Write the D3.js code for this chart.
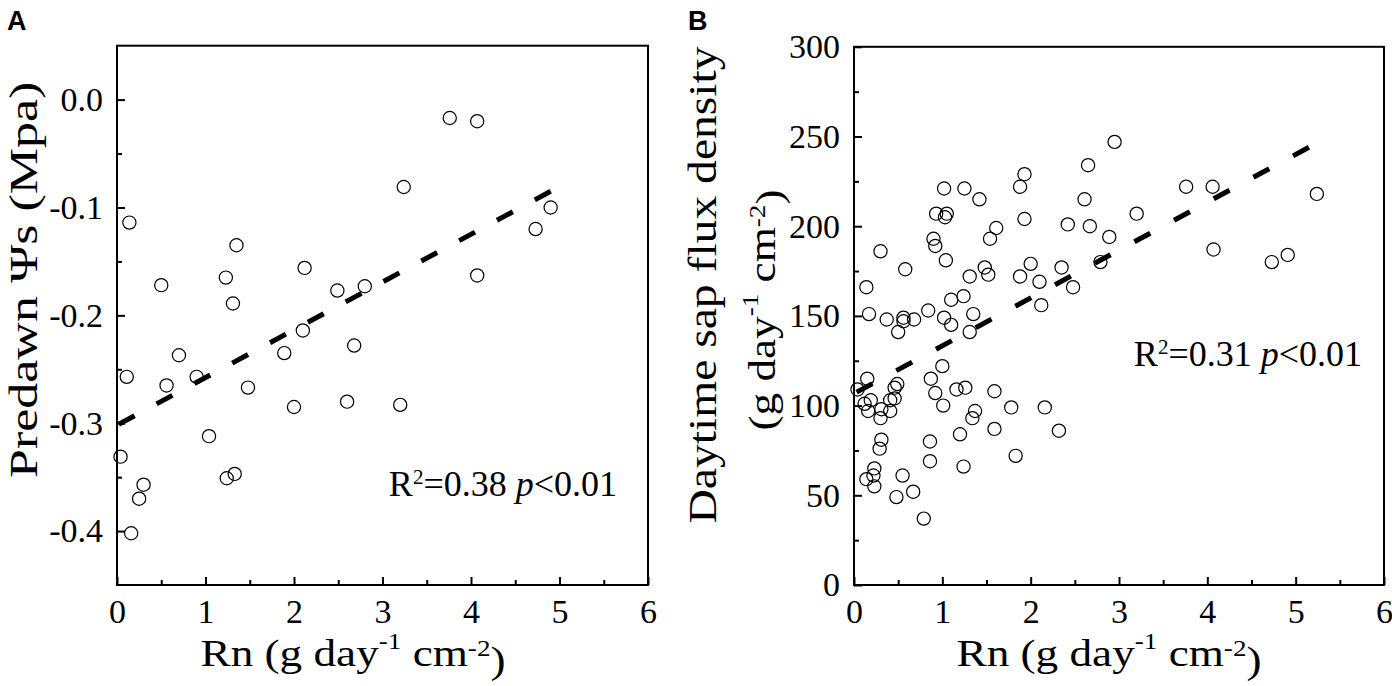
<!DOCTYPE html>
<html>
<head>
<meta charset="utf-8">
<script src="https://cdn.jsdelivr.net/npm/d3@7"></script>
<style>
  body { margin: 0; background: #fff; }
  svg { display: block; }
</style>
</head>
<body>
<div id="chart"></div>
<script>
// Panel A: predawn soil water potential vs Rn
const rnA = [0.14, 0.50, 1.35, 1.23, 1.31, 2.12, 2.49, 2.80, 3.76, 4.07, 3.24, 4.90, 4.73, 4.07,
  2.10, 2.68, 0.70, 1.89, 0.11, 0.56, 0.90, 1.48, 2.00, 2.60, 3.20, 1.04, 0.04, 1.33, 1.24,
  0.30, 0.25, 0.16];
const psiA = [-0.114, -0.172, -0.135, -0.165, -0.189, -0.156, -0.177, -0.173, -0.017, -0.020,
  -0.081, -0.100, -0.120, -0.163, -0.214, -0.228, -0.237, -0.235, -0.257, -0.265, -0.257,
  -0.267, -0.285, -0.280, -0.283, -0.312, -0.331, -0.347, -0.351, -0.357, -0.370, -0.402];
const fitA = [[0.02, -0.301], [4.9, -0.085]];

// Panel B: daytime sap flux density vs Rn
const rnB = [1.02, 1.25, 1.42, 1.88, 1.93, 0.93, 1.05, 1.03, 1.93, 1.61, 1.54, 0.90, 0.92, 0.30,
  1.04, 0.58, 1.48, 1.52, 1.31, 1.88, 0.14, 1.24, 1.10, 0.17, 0.37, 0.56, 0.56, 0.68, 0.84,
  1.02, 1.10, 1.35, 0.50, 1.31,
  1.00, 0.87, 0.15, 0.04, 0.49, 0.46, 0.92, 1.16, 1.26, 1.59, 0.12, 0.19, 0.16, 0.31, 0.30,
  0.41, 0.41, 0.46, 1.01, 1.37, 1.34, 1.78, 1.59, 1.20, 0.31, 0.29, 0.86, 1.83, 0.86, 1.24,
  0.23, 0.22, 0.14, 0.23, 0.55, 0.67, 0.48, 0.79,
  2.95, 2.65, 2.61, 3.20, 2.42, 2.67, 2.89, 2.79, 2.00, 2.35, 2.10, 2.48, 2.12, 2.16, 2.32,
  3.76, 4.06, 5.24, 4.07, 4.73, 4.91];
const sapB = [221, 221, 215, 222, 229, 207, 207, 205, 204, 199, 193, 193, 189, 186, 181, 176,
  177, 173, 172, 172, 166, 161, 159, 151, 148, 149, 147, 148, 153, 149, 145, 151, 141, 141,
  122, 115, 115, 109, 112, 110, 107, 109, 110, 108, 101, 103, 97, 98, 93, 97, 103, 104, 100,
  97, 93, 99, 87, 84, 81, 76, 80, 72, 69, 66, 65, 61, 59, 55, 61, 52, 49, 37,
  247, 234, 215, 207, 201, 200, 194, 180, 179, 177, 169, 166, 156, 99, 86,
  222, 222, 218, 187, 180, 184];
const fitB = [[0.03, 107.5], [5.15, 244]];

// axes
const xTicks = [0, 1, 2, 3, 4, 5, 6];
const xMinor = [0.5, 1.5, 2.5, 3.5, 4.5, 5.5];
const yTicksA = [-0.4, -0.3, -0.2, -0.1, 0.0];
const yTickLabelsA = ["-0.4", "-0.3", "-0.2", "-0.1", "0.0"];
const yMinorA = [-0.35, -0.25, -0.15, -0.05];
const yTicksB = [0, 50, 100, 150, 200, 250, 300];
const yMinorB = [25, 75, 125, 175, 225, 275];

const serif = "Liberation Serif, Times New Roman, serif";
const width = 1392, height = 686;
const svg = d3.select("#chart").append("svg")
  .attr("width", width).attr("height", height)
  .attr("viewBox", `0 0 ${width} ${height}`)
  .attr("font-family", serif);

function unitText(t, a, s1, b, s2, c) {
  t.append("tspan").text(a);
  t.append("tspan").attr("font-size", "0.6em").attr("dy", "-0.75em").text(s1);
  t.append("tspan").attr("dy", "0.45em").text(b);
  t.append("tspan").attr("font-size", "0.6em").attr("dy", "-0.45em").text(s2);
  t.append("tspan").attr("dy", "0.45em").text(c);
}

function panel(opt) {
  const x = d3.scaleLinear().domain([0, 6]).range([opt.left, opt.right]);
  const y = d3.scaleLinear().domain(opt.yDomain).range([opt.bottom, opt.top]);
  const g = svg.append("g");

  g.append("rect")
    .attr("x", opt.left).attr("y", opt.top)
    .attr("width", opt.right - opt.left).attr("height", opt.bottom - opt.top)
    .attr("fill", "none").attr("stroke", "#000").attr("stroke-width", 2);

  // ticks point inward, only on the left and bottom sides
  g.append("g")
    .attr("transform", `translate(0,${opt.bottom})`)
    .call(d3.axisBottom(x).tickValues(xTicks).tickSizeInner(-8).tickSizeOuter(0).tickPadding(14)
      .tickFormat(d3.format("d")));
  g.append("g")
    .attr("transform", `translate(0,${opt.bottom})`)
    .call(d3.axisBottom(x).tickValues(xMinor).tickSizeInner(-5).tickSizeOuter(0).tickFormat(""));
  g.append("g")
    .attr("transform", `translate(${opt.left},0)`)
    .call(d3.axisLeft(y).tickValues(opt.yTicks).tickSizeInner(-8).tickSizeOuter(0).tickPadding(14)
      .tickFormat(opt.yFormat));
  g.append("g")
    .attr("transform", `translate(${opt.left},0)`)
    .call(d3.axisLeft(y).tickValues(opt.yMinor).tickSizeInner(-5).tickSizeOuter(0).tickFormat(""));

  g.selectAll(".domain").remove();
  g.selectAll(".tick line").attr("stroke", "#000").attr("stroke-width", 2);
  g.selectAll(".tick text")
    .attr("font-family", serif).attr("font-size", 34).attr("fill", "#000");

  // regression line, dashes placed so that both ends carry a dash
  const fit = g.append("path")
    .datum(opt.fit)
    .attr("d", d3.line().x((d) => x(d[0])).y((d) => y(d[1])))
    .attr("fill", "none").attr("stroke", "#000").attr("stroke-width", 5);
  const len = fit.node().getTotalLength();
  const dash = 18;
  const period = (len - dash) / Math.round((len - dash) / 43.5);
  fit.attr("stroke-dasharray", `${dash} ${period - dash}`);

  g.selectAll("circle")
    .data(opt.xs.map((v, i) => [v, opt.ys[i]]))
    .enter().append("circle")
    .attr("cx", (d) => x(d[0])).attr("cy", (d) => y(d[1]))
    .attr("r", 6.6)
    .attr("fill", "none").attr("stroke", "#000").attr("stroke-width", 1.2);

  svg.append("text")
    .attr("x", opt.letterX).attr("y", 30)
    .attr("font-family", "Liberation Sans, Arial, sans-serif")
    .attr("font-weight", "bold").attr("font-size", 27)
    .text(opt.letter);

  const xl = svg.append("text")
    .attr("transform", `translate(${opt.xLabelX},666) scale(1.19,1)`)
    .attr("text-anchor", "middle").attr("font-size", 38);
  unitText(xl, "Rn (g day", "-1", " cm", "-2", ")");

  const st = svg.append("text")
    .attr("x", opt.statX).attr("y", opt.statY)
    .attr("text-anchor", "end").attr("font-size", 36);
  st.append("tspan").text("R");
  st.append("tspan").attr("font-size", 21).attr("dy", -12).text("2");
  st.append("tspan").attr("dy", 12).text(opt.stat);
  st.append("tspan").attr("font-style", "italic").text("p");
  st.append("tspan").text("<0.01");
}

panel({
  left: 117, right: 648, top: 45.7, bottom: 585,
  yDomain: [-0.45, 0.05], yTicks: yTicksA, yMinor: yMinorA,
  yFormat: (d, i) => yTickLabelsA[i],
  xs: rnA, ys: psiA, fit: fitA,
  letter: "A", letterX: 7, xLabelX: 353,
  stat: "=0.38 ", statX: 617, statY: 496,
});

panel({
  left: 854, right: 1384, top: 46.8, bottom: 585,
  yDomain: [0, 300], yTicks: yTicksB, yMinor: yMinorB,
  yFormat: d3.format("d"),
  xs: rnB, ys: sapB, fit: fitB,
  letter: "B", letterX: 688, xLabelX: 1109,
  stat: "=0.31 ", statX: 1362, statY: 366,
});

// y axis titles
svg.append("text")
  .attr("transform", "translate(37,478) rotate(-90) scale(1.3,1)")
  .attr("font-size", 40)
  .text("Predawn Ψs (Mpa)");

svg.append("text")
  .attr("transform", "translate(716,285) rotate(-90) scale(1.19,1)")
  .attr("text-anchor", "middle").attr("font-size", 40)
  .text("Daytime sap flux density");

const yl2 = svg.append("text")
  .attr("transform", "translate(775,310) rotate(-90) scale(1.19,1)")
  .attr("text-anchor", "middle").attr("font-size", 38);
unitText(yl2, "(g day", "-1", " cm", "-2", ")");
</script>
</body>
</html>
